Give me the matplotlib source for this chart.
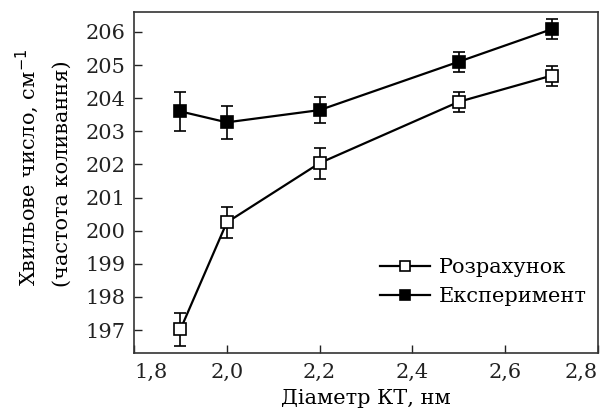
import matplotlib
matplotlib.use("Agg")
import matplotlib.pyplot as plt
from matplotlib.lines import Line2D

diam = [1.9, 2.0, 2.2, 2.5, 2.7]
calc = [197.02, 200.25, 202.04, 203.89, 204.68]
calc_err = [0.5, 0.47, 0.47, 0.3, 0.3]
exp = [203.6, 203.27, 203.64, 205.1, 206.08]
exp_err = [0.6, 0.5, 0.4, 0.3, 0.3]
xticks = [1.8, 2.0, 2.2, 2.4, 2.6, 2.8]
xticklabels = ["1,8", "2,0", "2,2", "2,4", "2,6", "2,8"]
yticks = [197, 198, 199, 200, 201, 202, 203, 204, 205, 206]
labels = ['Розрахунок', 'Експеримент']

plt.rcParams['font.family'] = ['DejaVu Serif']
fig = plt.figure(figsize=(6.02, 4.13), dpi=100)
ax = fig.add_axes([134/602, 1-353/413, (598-134)/602, (353-12)/413])

ax.errorbar(diam, calc, yerr=calc_err, color='black', lw=1.6, marker='s',
            ms=9, mfc='white', mec='black', mew=1.2, capsize=4, elinewidth=1.2,
            capthick=1.2)
ax.errorbar(diam, exp, yerr=exp_err, color='black', lw=1.6, marker='s',
            ms=9, mfc='black', mec='black', mew=1.2, capsize=4, elinewidth=1.2,
            capthick=1.2)

ax.set_xlim(1.8, 2.8)
ax.set_ylim(196.31, 206.6)
ax.set_xticks(xticks)
ax.set_xticklabels(xticklabels)
ax.set_yticks(yticks)
ax.tick_params(direction='in', length=6, width=1, labelsize=15, colors='#222')
ax.tick_params(axis='x', pad=7)
ax.tick_params(axis='y', pad=6)
tl = ax.get_xticklabels()
tl[0].set_ha('left')
tl[-1].set_ha('right')
for s in ax.spines.values():
    s.set_color('#333')
    s.set_linewidth(1.2)

ax.set_xlabel('Діаметр КТ, нм', fontsize=15, labelpad=5)
fig.text(27/602, 1-167/413, 'Хвильове число, см$^{-1}$', rotation=90,
         ha='center', va='center', fontsize=15)
fig.text(62/602, 1-174/413, '(частота коливання)', rotation=90,
         ha='center', va='center', fontsize=15)

handles = [
    Line2D([], [], color='black', lw=1.6, marker='s', ms=7, mfc='white',
           mec='black', mew=1.2),
    Line2D([], [], color='black', lw=1.6, marker='s', ms=7, mfc='black',
           mec='black', mew=1.2),
]
leg = ax.legend(handles, labels, loc='center left', frameon=False, fontsize=15,
                bbox_to_anchor=((370-134)/464, (353-282)/341), borderpad=0,
                handlelength=2.4, handletextpad=0.4, labelspacing=0.5)

fig.savefig('out.png', dpi=100)
